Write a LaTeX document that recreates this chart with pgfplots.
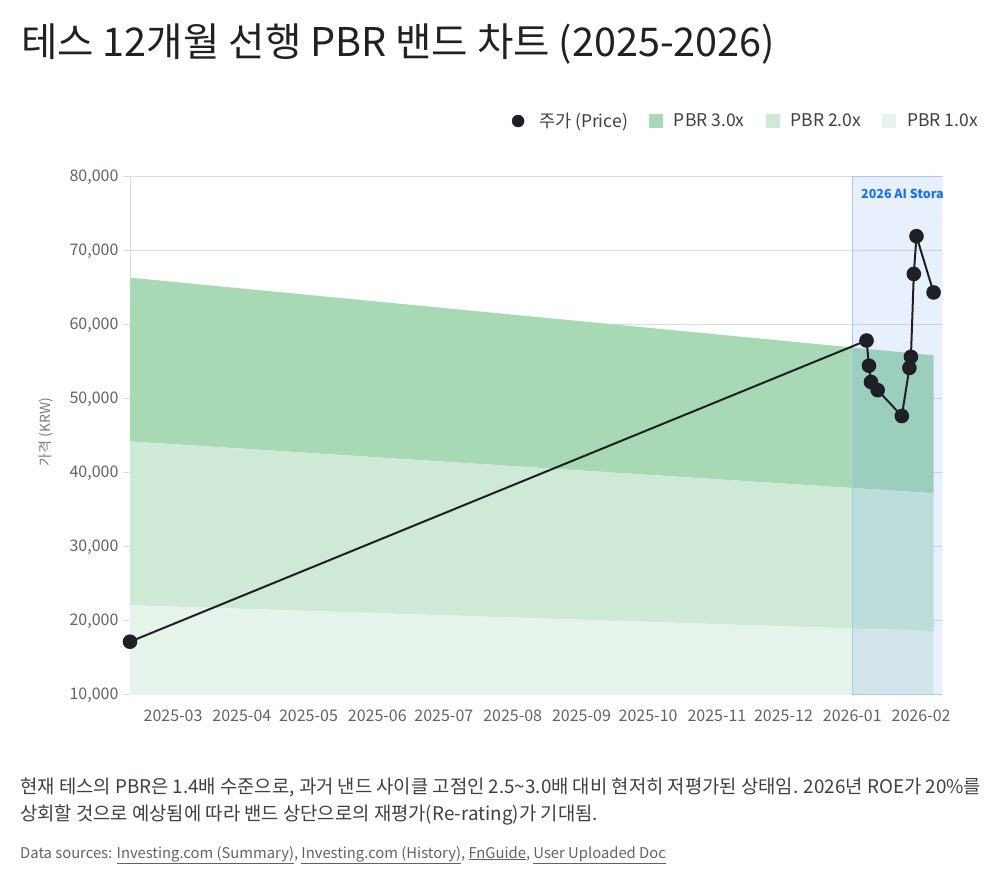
\documentclass[border=0pt]{standalone}
\usepackage{fontspec}
\setmainfont{Noto Sans CJK KR}
\usepackage{pgfplots}
\pgfplotsset{compat=1.18}
\definecolor{titlec}{RGB}{32,33,36}
\definecolor{bodyc}{RGB}{60,64,67}
\definecolor{tickc}{RGB}{95,99,104}
\definecolor{labc}{RGB}{120,124,130}
\definecolor{gridc}{RGB}{218,220,224}
\definecolor{pricec}{RGB}{30,32,38}
\definecolor{bthree}{RGB}{168,217,181}
\definecolor{btwo}{RGB}{206,234,215}
\definecolor{bone}{RGB}{230,243,234}
\definecolor{hlfill}{RGB}{66,133,244}
\definecolor{hlline}{RGB}{170,200,245}
\definecolor{hltext}{RGB}{26,115,232}
\begin{document}
\begin{tikzpicture}[x=1pt,y=1pt]
\useasboundingbox (0,0) rectangle (1000,883);
\node[anchor=base west, inner sep=0, text=titlec, font=\fontsize{39.6}{46}\selectfont] at (21,826) {테스 12개월 선행 PBR 밴드 차트 (2025-2026)};
\begin{axis}[
  at={(130pt,188pt)}, anchor=south west,
  scale only axis, width=812pt, height=518pt,
  xmin=39.6, xmax=405.4, ymin=10000, ymax=80000,
  scaled y ticks=false,
  ytick={10000,20000,30000,40000,50000,60000,70000,80000},
  xtick={59,90,120,151,181,212,243,273,304,334,365,396},
  xticklabels={2025-03,2025-04,2025-05,2025-06,2025-07,2025-08,2025-09,2025-10,2025-11,2025-12,2026-01,2026-02},
  /pgf/number format/.cd, 1000 sep={,}, fixed, assume math mode=true,
  /pgfplots/.cd,
  axis x line*=bottom, axis y line*=left,
  axis line style={gridc, line width=1pt, -},
  ymajorgrids, major grid style={gridc, line width=1pt},
  x tick style={draw=none},
  y tick style={gridc, line width=1pt},
  tick align=outside, major tick length=7pt,
  ticklabel style={text=tickc, font=\fontsize{16}{19}\selectfont},
  xticklabel style={yshift=-4pt},
  yticklabel style={xshift=-1pt},
  ylabel={가격 (KRW)},
  ylabel style={at={(axis description cs:-0.103,0.508)}, anchor=center, text=labc, font=\fontsize{14}{16}\selectfont},
  legend columns=4,
  legend style={at={(1.0443,1.108)}, anchor=east, draw=none, fill=none, inner sep=0pt,
    font=\fontsize{17.5}{20}\selectfont, text=bodyc,
    nodes={inner sep=0pt},
    /tikz/every odd column/.append style={column sep=11pt},
    /tikz/every even column/.append style={column sep=21pt}},
  legend cell align=left,
]
\addlegendimage{legend image code/.code={\fill[pricec] (7pt,0pt) circle (6pt); \path[draw=none] (0pt,0pt) -- (17pt,0pt);}}
\addlegendentry{주가 (Price)}
\addplot[fill=bthree, draw=none, legend image code/.code={\fill[bthree] (0pt,-7pt) rectangle (14pt,7pt);}]
  coordinates {(39.6,44267) (401.6,37267) (401.6,55900) (39.6,66400)} -- cycle;
\addlegendentry{PBR 3.0x}
\addplot[fill=btwo, draw=none, legend image code/.code={\fill[btwo] (0pt,-7pt) rectangle (14pt,7pt);}]
  coordinates {(39.6,22133) (401.6,18633) (401.6,37267) (39.6,44267)} -- cycle;
\addlegendentry{PBR 2.0x}
\addplot[fill=bone, draw=none, legend image code/.code={\fill[bone] (0pt,-7pt) rectangle (14pt,7pt);}]
  coordinates {(39.6,0) (401.6,0) (401.6,18633) (39.6,22133)} -- cycle;
\addlegendentry{PBR 1.0x}
\addplot[forget plot, fill=hlfill, fill opacity=0.12, draw=hlline, line width=1pt]
  coordinates {(365.3,10000) (405.4,10000) (405.4,80000) (365.3,80000)} -- cycle;
\node[anchor=north west, inner sep=0, text=hltext, font=\bfseries\fontsize{12.5}{15}\selectfont] at (axis cs:368.9,78500) {2026 AI Storage Cycle};
\addplot[forget plot, pricec, line width=2pt, mark=*, mark size=6.3pt, mark options={fill=pricec, draw=pricec}]
  coordinates {
    (39.6,17200) (371.4,57900) (372.5,54500) (373.4,52300) (376.4,51200)
    (387.3,47700) (390.7,54200) (391.4,55700) (392.7,66900) (393.9,72000) (401.6,64400)
  };
\end{axis}
\node[anchor=base west, inner sep=0, text=bodyc, font=\fontsize{18.8}{22}\selectfont] at (20,90) {현재 테스의 PBR은 1.4배 수준으로, 과거 낸드 사이클 고점인 2.5\textasciitilde 3.0배 대비 현저히 저평가된 상태임. 2026년 ROE가 20\%를};
\node[anchor=base west, inner sep=0, text=bodyc, font=\fontsize{18.8}{22}\selectfont] at (20,63) {상회할 것으로 예상됨에 따라 밴드 상단으로의 재평가(Re-rating)가 기대됨.};
\node[anchor=base west, inner sep=0, text=tickc, font=\fontsize{14.8}{17}\selectfont] at (20,25) {Data sources: \underline{Investing.com (Summary)}, \underline{Investing.com (History)}, \underline{FnGuide}, \underline{User Uploaded Doc}};
\end{tikzpicture}
\end{document}
